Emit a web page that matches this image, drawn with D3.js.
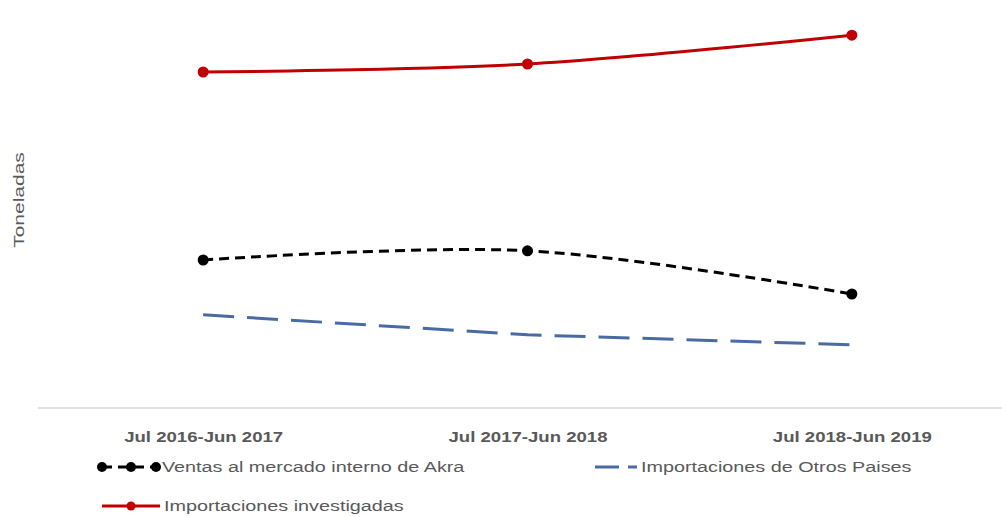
<!DOCTYPE html>
<html>
<head>
<meta charset="utf-8">
<script src="https://cdn.jsdelivr.net/npm/d3@7"></script>
<style>
  body { margin: 0; background: #fff; }
  text { font-family: "Liberation Sans", Arial, sans-serif; }
</style>
</head>
<body>
<svg id="chart" width="1002" height="517"></svg>
<script>
// periods on the x axis
const periods = ['Jul 2016-Jun 2017', 'Jul 2017-Jun 2018', 'Jul 2018-Jun 2019'];

// values (no y scale shown, relative units)
const ventasAkra = [37, 39.3, 28.5];
const importOtros = [23.3, 18.3, 15.8];
const importInvest = [84, 86, 93.2];

const legendNames = ['Ventas al mercado interno de Akra', 'Importaciones de Otros Paises', 'Importaciones investigadas'];

const width = 1002, height = 517;
const margin = { top: 8, right: -12, bottom: 109, left: 41 };
const stretch = 1.32; // text in the picture is drawn wide

const svg = d3.select('#chart');

const x = d3.scalePoint()
    .domain(periods)
    .range([margin.left, width - margin.right])
    .padding(0.5);

const y = d3.scaleLinear()
    .domain([0, 100])
    .range([height - margin.bottom, margin.top]);

// baseline
svg.append('line')
    .attr('x1', 38).attr('x2', 1002)
    .attr('y1', y(0)).attr('y2', y(0))
    .attr('stroke', '#d9d9d9')
    .attr('stroke-width', 1.5);

// x axis labels
const xAxis = svg.append('g')
    .attr('transform', `translate(0, ${y(0)})`)
    .call(d3.axisBottom(x).tickSize(0).tickPadding(23));
xAxis.select('.domain').remove();
xAxis.selectAll('text')
    .attr('font-size', 15)
    .attr('font-weight', 'bold')
    .attr('fill', '#595959')
    .attr('transform', 'scale(1.24,1)');

// y title
svg.append('text')
    .attr('transform', `translate(24, 200) rotate(-90) scale(${stretch + 0.08},1)`)
    .attr('text-anchor', 'middle')
    .attr('font-size', 15)
    .attr('fill', '#595959')
    .text('Toneladas');

const series = [
    { name: legendNames[0], values: ventasAkra, color: '#000000', dash: '10,6', curve: d3.curveCatmullRom, marker: true },
    { name: legendNames[1], values: importOtros, color: '#4a6aa3', dash: '31,13', curve: d3.curveLinear, marker: false },
    { name: legendNames[2], values: importInvest, color: '#c00000', dash: null, curve: d3.curveCatmullRom, marker: true }
];

series.forEach(s => {
    const line = d3.line()
        .x((d, i) => x(periods[i]))
        .y(d => y(d))
        .curve(s.curve);

    svg.append('path')
        .datum(s.values)
        .attr('d', line)
        .attr('fill', 'none')
        .attr('stroke', s.color)
        .attr('stroke-width', 3)
        .attr('stroke-dasharray', s.dash);

    if (s.marker) {
        svg.selectAll(null)
            .data(s.values)
            .enter()
            .append('circle')
            .attr('cx', (d, i) => x(periods[i]))
            .attr('cy', d => y(d))
            .attr('r', 5.5)
            .attr('fill', s.color);
    }
});

// legend
const legendText = (g, tx, label) =>
    g.append('text')
        .attr('transform', `translate(${tx}, 5) scale(${stretch},1)`)
        .attr('font-size', 15)
        .attr('fill', '#595959')
        .text(label);

// Ventas al mercado
const l1 = svg.append('g').attr('transform', 'translate(0, 467)');
l1.append('line').attr('x1', 102).attr('x2', 156).attr('y1', 0).attr('y2', 0)
    .attr('stroke', '#000').attr('stroke-width', 3).attr('stroke-dasharray', '10,6');
[102, 131, 156].forEach(cx => l1.append('circle').attr('cx', cx).attr('cy', 0).attr('r', 5).attr('fill', '#000'));
legendText(l1, 162, legendNames[0]);

// Importaciones de Otros Paises
const l2 = svg.append('g').attr('transform', 'translate(0, 467)');
l2.append('line').attr('x1', 595).attr('x2', 637).attr('y1', 0).attr('y2', 0)
    .attr('stroke', '#4a6aa3').attr('stroke-width', 3).attr('stroke-dasharray', '24,9');
legendText(l2, 641, legendNames[1]);

// Importaciones investigadas
const l3 = svg.append('g').attr('transform', 'translate(0, 506)');
l3.append('line').attr('x1', 102).attr('x2', 160).attr('y1', 0).attr('y2', 0)
    .attr('stroke', '#c00000').attr('stroke-width', 3);
l3.append('circle').attr('cx', 131).attr('cy', 0).attr('r', 4.5).attr('fill', '#c00000');
legendText(l3, 164, legendNames[2]);
</script>
</body>
</html>
